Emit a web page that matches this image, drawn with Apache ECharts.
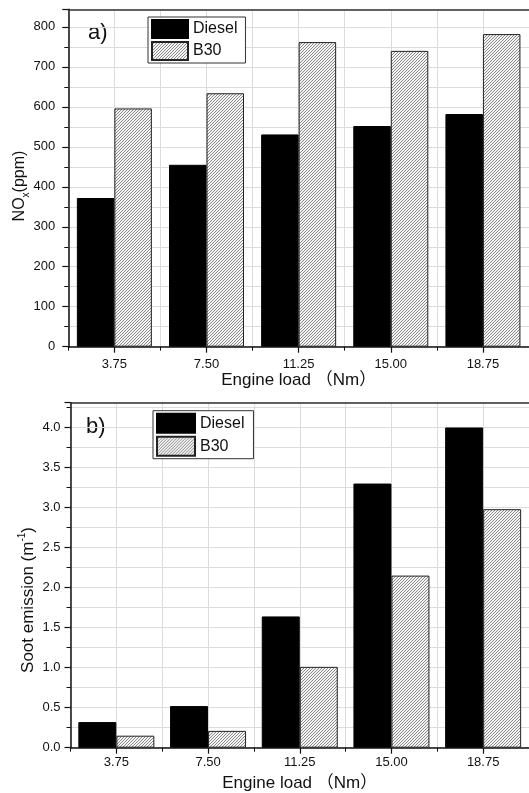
<!DOCTYPE html>
<html>
<head>
<meta charset="utf-8">
<script src="https://cdn.jsdelivr.net/npm/echarts@6/dist/echarts.min.js"></script>
<style>
  html, body { margin: 0; padding: 0; background: #fff; }
  #chart { width: 529px; height: 793px; }
</style>
</head>
<body>
<div id="chart"></div>
<script>
// Engine load categories (Nm)
const loads = ['3.75', '7.50', '11.25', '15.00', '18.75'];
const fuels = ['Diesel', 'B30'];

// a) NOx emissions (ppm)
const noxDiesel = [372, 455, 531, 552, 582];
const noxB30 = [596, 634, 762, 740, 782];

// b) Soot emissions (m^-1)
const sootDiesel = [0.32, 0.52, 1.64, 3.30, 4.00];
const sootB30 = [0.15, 0.21, 1.01, 2.15, 2.98];

const FONT = '"Liberation Sans", Arial, "Noto Sans CJK SC", sans-serif';
const INK = '#111';

// diagonal hatch fill for the B30 bars
function makeHatch() {
  const c = document.createElement('canvas');
  c.width = 3; c.height = 3;
  const g = c.getContext('2d');
  g.fillStyle = '#f4f4f4';
  g.fillRect(0, 0, 3, 3);
  g.fillStyle = '#8a8a8a';
  for (let i = 0; i < 3; i++) g.fillRect(i, 2 - i, 1, 1);
  return c;
}
const hatch = { image: makeHatch(), repeat: 'repeat' };

const gridLine = { color: '#dcdcdc', width: 1 };

function valueAxis(gridIndex, max, interval, margin, digits) {
  return {
    type: 'value', gridIndex, min: 0, max, interval,
    axisLine: { show: true, lineStyle: { color: INK, width: 1.5 } },
    axisTick: { show: true, length: 6, lineStyle: { color: INK, width: 1.2 } },
    minorTick: { show: true, splitNumber: 2, length: 4, lineStyle: { color: INK, width: 1 } },
    splitLine: { show: true, lineStyle: gridLine },
    minorSplitLine: { show: true, lineStyle: gridLine },
    axisLabel: {
      fontSize: 13, color: INK, fontFamily: FONT, margin, showMaxLabel: false,
      formatter: v => v.toFixed(digits)
    }
  };
}

function categoryAxes(gridIndex, labelMargin, nameGap) {
  return [
    {
      type: 'category', gridIndex, data: loads, position: 'bottom',
      axisLine: { show: true, lineStyle: { color: INK, width: 1.5 } },
      axisTick: { show: true, alignWithLabel: true, length: 6, lineStyle: { color: INK, width: 1.2 } },
      splitLine: { show: true, alignWithLabel: true, lineStyle: gridLine },
      axisLabel: { fontSize: 13, color: INK, fontFamily: FONT, margin: labelMargin },
      name: 'Engine load （Nm）', nameLocation: 'middle', nameGap,
      nameTextStyle: { fontSize: 17, color: INK, fontFamily: FONT }
    },
    {
      // boundary ticks and grid lines between the load groups
      type: 'category', gridIndex, data: loads, position: 'bottom',
      axisLine: { show: false },
      axisTick: { show: true, length: 4, lineStyle: { color: INK, width: 1 } },
      splitLine: { show: true, lineStyle: gridLine },
      axisLabel: { show: false }
    },
    {
      // frame line along the top of the plot
      type: 'category', gridIndex, data: loads, position: 'top',
      axisLine: { show: true, lineStyle: { color: '#333', width: 1.5 } },
      axisTick: { show: false },
      axisLabel: { show: false }
    }
  ];
}

function legend(left, top, iw, ih, padRight) {
  return {
    left, top, orient: 'vertical', icon: 'rect',
    itemWidth: iw, itemHeight: ih, itemGap: 2,
    padding: [2, padRight, 2, 3],
    borderColor: '#333', borderWidth: 1, backgroundColor: '#fff',
    textStyle: { fontSize: 16, color: INK, fontFamily: FONT },
    data: fuels
  };
}

function barPair(gridIndex, xIndex, diesel, b30, width) {
  return [
    {
      type: 'bar', name: fuels[0], xAxisIndex: xIndex, yAxisIndex: gridIndex,
      data: diesel, barWidth: width, barGap: '0%',
      itemStyle: { color: '#000', borderColor: '#000', borderWidth: 1 }
    },
    {
      type: 'bar', name: fuels[1], xAxisIndex: xIndex, yAxisIndex: gridIndex,
      data: b30, barWidth: width, barGap: '0%',
      itemStyle: { color: hatch, borderColor: '#222', borderWidth: 1 }
    }
  ];
}

const chart = echarts.init(document.getElementById('chart'), null, { renderer: 'canvas' });

chart.setOption({
  backgroundColor: '#fff',
  animation: false,
  grid: [
    { left: 68.3, top: 9.3, width: 461, height: 337.4 },
    { left: 70.5, top: 402.7, width: 469, height: 345 }
  ],
  xAxis: [...categoryAxes(0, 11.5, 24), ...categoryAxes(1, 8, 27)],
  yAxis: [valueAxis(0, 844, 100, 13, 0), valueAxis(1, 4.31, 0.5, 10, 1)],
  legend: [legend(148, 17, 36, 18, 8), legend(153, 410.7, 38, 19, 9)],
  series: [
    ...barPair(0, 0, noxDiesel, noxB30, 37.5),
    ...barPair(1, 3, sootDiesel, sootB30, 38)
  ],
  graphic: [
    {
      type: 'text', left: 88, top: 22,
      style: { text: 'a)', fontSize: 22, fill: INK, fontFamily: FONT }
    },
    {
      type: 'text', left: 86, top: 416,
      style: { text: 'b)', fontSize: 22, fill: INK, fontFamily: FONT }
    },
    {
      type: 'text', x: 20, y: 186, rotation: Math.PI / 2,
      style: {
        text: '{n|NO}{s|x}{n|(ppm)}',
        align: 'center', verticalAlign: 'middle', fill: INK,
        rich: {
          n: { fontSize: 16, fontFamily: FONT, fill: INK },
          s: { fontSize: 10, fontFamily: FONT, fill: INK, padding: [12, 0, 0, 0] }
        }
      }
    },
    {
      type: 'text', x: 28, y: 600, rotation: Math.PI / 2,
      style: {
        text: '{n|Soot emission (m}{p|-1}{n|)}',
        align: 'center', verticalAlign: 'middle', fill: INK,
        rich: {
          n: { fontSize: 17, fontFamily: FONT, fill: INK },
          p: { fontSize: 10, fontFamily: FONT, fill: INK, padding: [0, 0, 12, 0] }
        }
      }
    }
  ]
});
</script>
</body>
</html>
